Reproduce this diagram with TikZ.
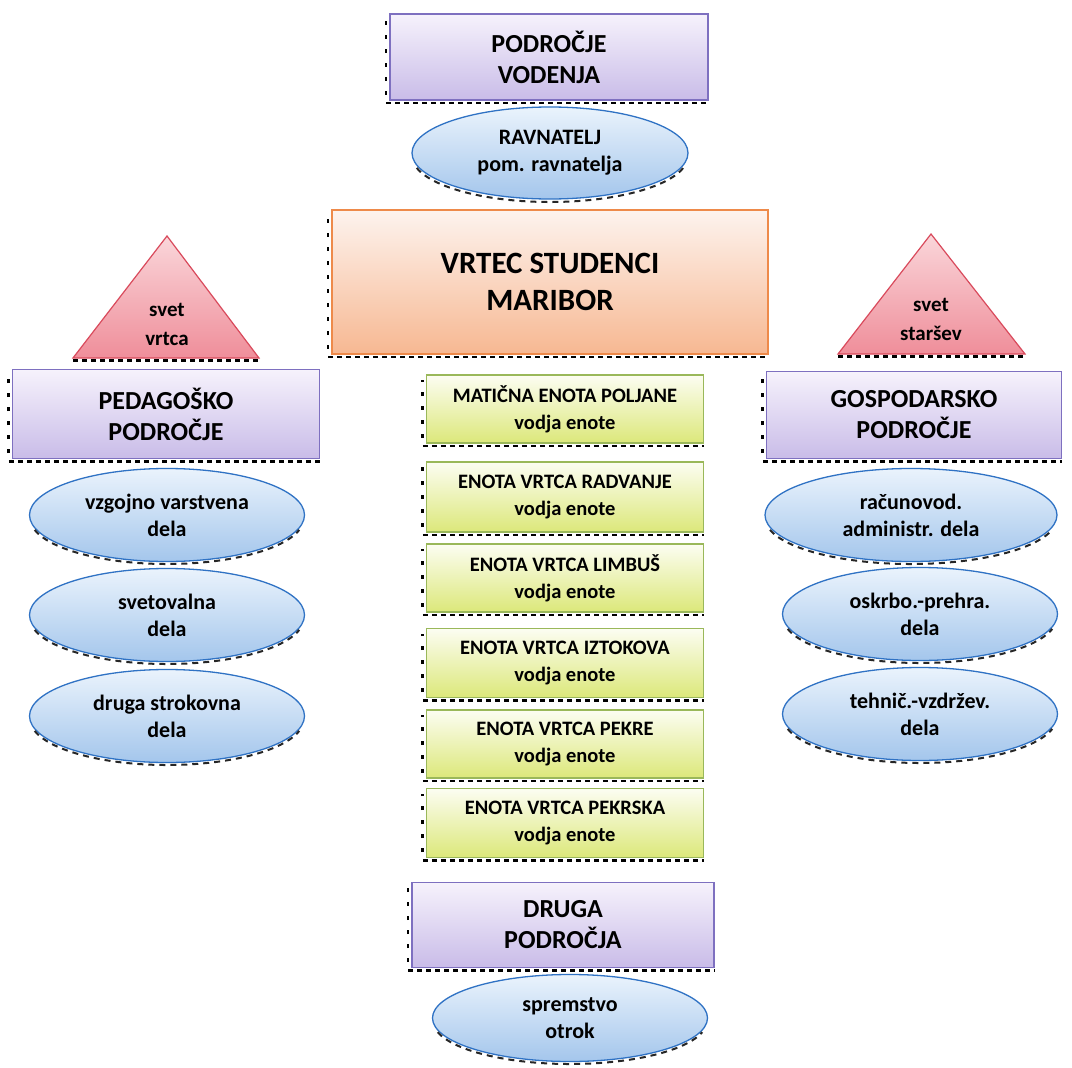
\documentclass[tikz,border=0pt]{standalone}
\usepackage{fontspec}
\setmainfont{Carlito}
\usetikzlibrary{shapes.geometric}
\definecolor{purpTop}{HTML}{F6F2FC}
\definecolor{purpBot}{HTML}{C9BCE8}
\definecolor{purpLine}{HTML}{7E70C0}
\definecolor{bluTop}{HTML}{EAF3FC}
\definecolor{bluBot}{HTML}{A4C6EC}
\definecolor{bluLine}{HTML}{2F72C4}
\definecolor{oraTop}{HTML}{FDF3EE}
\definecolor{oraBot}{HTML}{F7B892}
\definecolor{oraLine}{HTML}{EE8A4A}
\definecolor{pinkTop}{HTML}{FAD6DA}
\definecolor{pinkBot}{HTML}{EF8E9A}
\definecolor{pinkLine}{HTML}{D94A5C}
\definecolor{grnTop}{HTML}{FCFDF2}
\definecolor{grnBot}{HTML}{DCE87A}
\definecolor{grnLine}{HTML}{9AB85A}
\tikzset{
  areabox/.style={rectangle, draw=purpLine, line width=1.2pt, top color=purpTop, bottom color=purpBot,
    inner sep=0pt, align=center, font=\bfseries\fontsize{26}{31}\selectfont},
  mainbox/.style={rectangle, draw=oraLine, line width=1.2pt, top color=oraTop, bottom color=oraBot,
    inner sep=0pt, align=center, font=\bfseries\fontsize{31}{37}\selectfont},
  unitbox/.style={rectangle, draw=grnLine, line width=1.2pt, top color=grnTop, bottom color=grnBot,
    minimum width=277pt, inner sep=0pt, align=center, font=\bfseries\fontsize{20.5}{27}\selectfont},
  roleell/.style={ellipse, draw=bluLine, line width=1.3pt, top color=bluTop, bottom color=bluBot,
    inner sep=0pt, align=center, font=\bfseries\fontsize{22}{27}\selectfont},
  trifill/.style={draw=pinkLine, line width=1.2pt, top color=pinkTop, bottom color=pinkBot},
  tritext/.style={align=center, font=\bfseries\fontsize{21}{29}\selectfont},
  shd/.style={black, line width=2.6pt, dash pattern=on 5pt off 4pt},
  shdl/.style={black, line width=2.2pt, dash pattern=on 4pt off 10pt},
  shde/.style={black!85, line width=2pt, dash pattern=on 6pt off 5pt}
}
\newcommand\rectshadow[1]{%
  \draw[shd] ([yshift=-2.5pt,xshift=-3pt]#1.south west) -- ([yshift=-2.5pt]#1.south east);
  \draw[shdl] ([xshift=-3.5pt,yshift=6pt]#1.south west) -- ([xshift=-3.5pt,yshift=-6pt]#1.north west);}
\newcommand\ellshadow[3]{%
  \draw[shde] ([yshift=-3pt]#1.center) ++(195:#2 and #3) arc[start angle=195,end angle=345,x radius=#2,y radius=#3];}
\begin{document}
\begin{tikzpicture}[x=1pt,y=-1pt]
\useasboundingbox[fill=white] (0,0) rectangle (1072,1068);

% top
\node[areabox, minimum width=318pt, minimum height=86pt] (vod) at (549,57) {PODROČJE\\VODENJA};
\rectshadow{vod}
\node[roleell, minimum width=276pt, minimum height=92pt] (rav) at (550,153) {RAVNATELJ\\pom. ravnatelja};
\ellshadow{rav}{138pt}{46pt}

% main
\node[mainbox, minimum width=436pt, minimum height=144pt] (vrtec) at (550,282) {VRTEC STUDENCI\\MARIBOR};
\rectshadow{vrtec}

% triangles
\path[trifill] (73,358) -- (259,358) -- (167,236) -- cycle;
\draw[shd] (73,360.5) -- (259,360.5);
\node[tritext] (svv) at (167,324) {svet\\vrtca};
\path[trifill] (838,354) -- (1025,354) -- (931,234) -- cycle;
\draw[shd] (838,356.5) -- (1025,356.5);
\node[tritext] (svs) at (931,319) {svet\\staršev};

% side areas
\node[areabox, minimum width=307pt, minimum height=89pt] (ped) at (166,414) {PEDAGOŠKO\\PODROČJE};
\rectshadow{ped}
\node[areabox, minimum width=295pt, minimum height=87pt] (gos) at (914,415) {GOSPODARSKO\\PODROČJE};
\rectshadow{gos}

% left ellipses
\node[roleell, minimum width=275pt, minimum height=93pt] (l1) at (167,515) {vzgojno varstvena\\dela};
\ellshadow{l1}{137pt}{46pt}
\node[roleell, minimum width=275pt, minimum height=93pt] (l2) at (167,615) {svetovalna\\dela};
\ellshadow{l2}{137pt}{46pt}
\node[roleell, minimum width=275pt, minimum height=93pt] (l3) at (167,716) {druga strokovna\\dela};
\ellshadow{l3}{137pt}{46pt}

% right ellipses
\node[roleell, minimum width=292pt, minimum height=93pt] (r1) at (911,515) {računovod.\\administr. dela};
\ellshadow{r1}{146pt}{46pt}
\node[roleell, minimum width=275pt, minimum height=93pt] (r2) at (920,614) {oskrbo.-prehra.\\dela};
\ellshadow{r2}{137pt}{46pt}
\node[roleell, minimum width=275pt, minimum height=93pt] (r3) at (920,714) {tehnič.-vzdržev.\\dela};
\ellshadow{r3}{137pt}{46pt}

% units
\node[unitbox, minimum height=68pt] (u1) at (565,409) {MATIČNA ENOTA POLJANE\\vodja enote};
\rectshadow{u1}
\node[unitbox, minimum height=70pt] (u2) at (565,497) {ENOTA VRTCA RADVANJE\\vodja enote};
\rectshadow{u2}
\node[unitbox, minimum height=68pt] (u3) at (565,578) {ENOTA VRTCA LIMBUŠ\\vodja enote};
\rectshadow{u3}
\node[unitbox, minimum height=69pt] (u4) at (565,663) {ENOTA VRTCA IZTOKOVA\\vodja enote};
\rectshadow{u4}
\node[unitbox, minimum height=68pt] (u5) at (565,744) {ENOTA VRTCA PEKRE\\vodja enote};
\rectshadow{u5}
\node[unitbox, minimum height=69pt] (u6) at (565,823) {ENOTA VRTCA PEKRSKA\\vodja enote};
\rectshadow{u6}

% bottom
\node[areabox, minimum width=302pt, minimum height=85pt] (dru) at (563,925) {DRUGA\\PODROČJA};
\rectshadow{dru}
\node[roleell, minimum width=275pt, minimum height=87pt] (spr) at (570,1018) {spremstvo\\otrok};
\ellshadow{spr}{137pt}{43pt}
\end{tikzpicture}
\end{document}
